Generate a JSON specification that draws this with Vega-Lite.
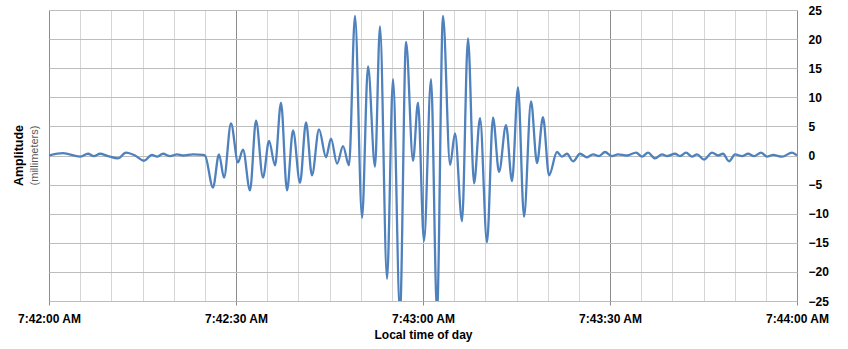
{
  "$schema": "https://vega.github.io/schema/vega-lite/v6.json",
  "width": 748,
  "height": 291,
  "autosize": {"type": "none"},
  "padding": {"left": 49, "top": 10, "right": 51, "bottom": 48},
  "background": "white",
  "config": {
    "view": {"stroke": null},
    "font": "Liberation Sans"
  },
  "title": {
    "text": "Amplitude",
    "subtitle": "(millimeters)",
    "orient": "left",
    "anchor": "middle",
    "offset": -23,
    "fontSize": 12.5,
    "fontWeight": "bold",
    "color": "#000000",
    "subtitleFontSize": 11,
    "subtitleColor": "#595959",
    "subtitlePadding": 4,
    "font": "Liberation Sans",
    "subtitleFont": "Liberation Sans"
  },
  "data": {
    "values": [
      {"t": 0, "v": 0}, {"t": 2.25, "v": 0.4}, {"t": 4.97, "v": -0.2}, {"t": 6.26, "v": 0.3}, {"t": 7.2, "v": -0.1},
      {"t": 8.18, "v": 0.3}, {"t": 9.47, "v": -0.1}, {"t": 11.07, "v": -0.5}, {"t": 12.35, "v": 0.5}, {"t": 13.8, "v": 0},
      {"t": 15.24, "v": -0.9}, {"t": 16.52, "v": 0.1}, {"t": 17.33, "v": -0.2}, {"t": 18.29, "v": 0.3}, {"t": 19.41, "v": -0.1},
      {"t": 20.54, "v": 0.2}, {"t": 21.5, "v": 0}, {"t": 23.1, "v": 0.2}, {"t": 24.7, "v": 0.1}, {"t": 25.03, "v": 0},
      {"t": 26.31, "v": -5.5}, {"t": 27.27, "v": 0.2}, {"t": 28.08, "v": -3.8}, {"t": 29.2, "v": 5.5}, {"t": 30.32, "v": -1.2},
      {"t": 31.12, "v": 1.0}, {"t": 32.25, "v": -6}, {"t": 33.21, "v": 6}, {"t": 34.33, "v": -3.8}, {"t": 35.3, "v": 2.5},
      {"t": 36.26, "v": -1.7}, {"t": 37.22, "v": 9.1}, {"t": 38.18, "v": -6}, {"t": 39.15, "v": 4.3}, {"t": 40.27, "v": -4.7},
      {"t": 41.23, "v": 5.7}, {"t": 42.19, "v": -3.4}, {"t": 43.32, "v": 4.5}, {"t": 44.44, "v": -0.3}, {"t": 45.24, "v": 2.9},
      {"t": 46.21, "v": -1.4}, {"t": 47.17, "v": 1.6}, {"t": 48.13, "v": -1.7}, {"t": 49.09, "v": 24}, {"t": 50.22, "v": -10.7},
      {"t": 51.18, "v": 15.3}, {"t": 52.3, "v": -1.9}, {"t": 53.1, "v": 22.2}, {"t": 54.23, "v": -21.2}, {"t": 55.19, "v": 13.1},
      {"t": 56.31, "v": -27}, {"t": 57.28, "v": 19.5}, {"t": 58.4, "v": -0.9}, {"t": 59.2, "v": 9.1}, {"t": 60.16, "v": -14.7},
      {"t": 61.29, "v": 13.1}, {"t": 62.25, "v": -27}, {"t": 63.21, "v": 24}, {"t": 64.34, "v": -1.6}, {"t": 65.14, "v": 3.8},
      {"t": 66.26, "v": -11.3}, {"t": 67.22, "v": 20.1}, {"t": 68.19, "v": -4.8}, {"t": 69.15, "v": 6.4}, {"t": 70.27, "v": -14.9},
      {"t": 71.23, "v": 6.5}, {"t": 72.2, "v": -2.8}, {"t": 73.32, "v": 5.2}, {"t": 74.28, "v": -4.4}, {"t": 75.24, "v": 11.7},
      {"t": 76.21, "v": -10.5}, {"t": 77.33, "v": 9.3}, {"t": 78.29, "v": -1.3}, {"t": 79.25, "v": 6.6}, {"t": 80.22, "v": -3.4},
      {"t": 81.5, "v": 0.6}, {"t": 82.3, "v": -0.2}, {"t": 83.1, "v": 0.3}, {"t": 84.07, "v": -1}, {"t": 85.19, "v": 0.3},
      {"t": 86.31, "v": -0.3}, {"t": 87.28, "v": 0.2}, {"t": 88.24, "v": -0.1}, {"t": 89.2, "v": 0.6}, {"t": 90.32, "v": -0.1},
      {"t": 91.29, "v": 0.2}, {"t": 92.73, "v": 0}, {"t": 94.18, "v": 0.5}, {"t": 95.14, "v": -0.2}, {"t": 96.1, "v": 0.5},
      {"t": 97.22, "v": -0.5}, {"t": 98.35, "v": 0.2}, {"t": 99.15, "v": -0.1}, {"t": 100.43, "v": 0.3}, {"t": 101.23, "v": -0.1},
      {"t": 102.2, "v": 0.5}, {"t": 103.16, "v": -0.2}, {"t": 103.96, "v": 0.2}, {"t": 105.08, "v": -0.7}, {"t": 106.37, "v": 0.5},
      {"t": 107.33, "v": 0}, {"t": 108.13, "v": 0.3}, {"t": 109.1, "v": -1}, {"t": 110.06, "v": 0.2}, {"t": 111.18, "v": -0.1},
      {"t": 112.15, "v": 0.3}, {"t": 113.11, "v": -0.1}, {"t": 114.23, "v": 0.5}, {"t": 115.19, "v": -0.2}, {"t": 116.16, "v": 0.1},
      {"t": 117.6, "v": -0.2}, {"t": 119.2, "v": 0.5}, {"t": 120, "v": 0}
    ]
  },
  "mark": {"type": "line", "interpolate": "monotone", "color": "#4f81bd", "strokeWidth": 2.3, "clip": true},
  "encoding": {
    "x": {
      "field": "t",
      "type": "quantitative",
      "scale": {"domain": [0, 120], "nice": false, "zero": false},
      "axis": {
        "values": [0,5,10,15,20,25,30,35,40,45,50,55,60,65,70,75,80,85,90,95,100,105,110,115,120],
        "labelExpr": "datum.value % 30 !== 0 ? '' : '7:' + (42 + floor(datum.value / 60)) + ':' + (datum.value % 60 === 0 ? '00' : '30') + ' AM'",
        "grid": true,
        "gridColor": {"condition": {"test": "datum.value % 30 === 0", "value": "#8c8c8c"}, "value": "#d6d6d6"},
        "gridWidth": 1,
        "domain": false,
        "ticks": true,
        "tickSize": 4,
        "tickColor": {"condition": {"test": "datum.value % 30 === 0", "value": "#8c8c8c"}, "value": "transparent"},
        "labelFont": "Liberation Sans",
        "labelFontSize": 12,
        "labelFontWeight": "bold",
        "labelColor": "#000000",
        "labelPadding": 8,
        "labelOverlap": false,
        "labelFlush": false,
        "title": "Local time of day",
        "titleFont": "Liberation Sans",
        "titleFontSize": 12,
        "titleFontWeight": "bold",
        "titleColor": "#000000",
        "titlePadding": 5
      }
    },
    "y": {
      "field": "v",
      "type": "quantitative",
      "scale": {"domain": [-25, 25], "nice": false, "zero": false},
      "axis": {
        "orient": "right",
        "values": [-25,-20,-15,-10,-5,0,5,10,15,20,25],
        "grid": true,
        "gridColor": "#bdbdbd",
        "gridWidth": 1.2,
        "domain": false,
        "ticks": false,
        "labelPadding": 11,
        "labelFont": "Liberation Sans",
        "labelFontSize": 12,
        "labelFontWeight": "bold",
        "labelColor": "#000000",
        "labelOverlap": false,
        "title": null
      }
    }
  }
}
